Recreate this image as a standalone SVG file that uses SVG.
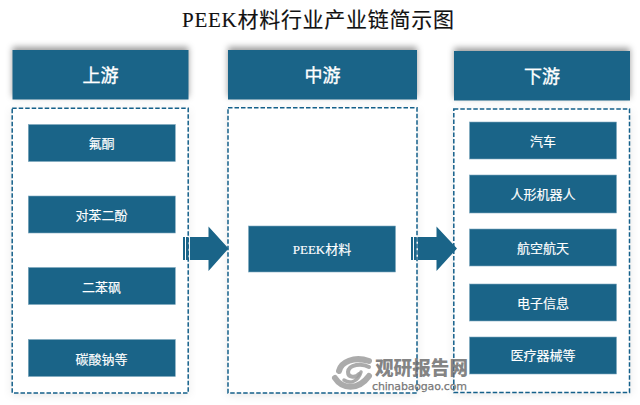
<svg xmlns="http://www.w3.org/2000/svg" width="640" height="405" viewBox="0 0 640 405">
<style>
.hd{fill:#1a6488}
.bx{fill:#1a6488;stroke:#7fa9bf;stroke-width:.6}
.pn{fill:#fff;stroke:#14608a;stroke-width:1.5;stroke-dasharray:4.500 2}
.ar{fill:#1a6488}
text{font-family:"Liberation Serif","Noto Sans CJK SC",serif;text-anchor:middle}
.t{fill:#111;font-size:21px;stroke:#111;stroke-width:.15}
.h{fill:#fff;font-size:18px;stroke:#fff;stroke-width:.35}
.l{fill:#fff;font-size:13px;stroke:#fff;stroke-width:.15}
.wm{fill:#6e6e6e;fill-opacity:.85;font-family:"Noto Sans CJK SC",sans-serif;font-weight:900;font-size:19px}
.wu{fill:#6e6e6e;fill-opacity:.9;font-family:"DejaVu Sans",sans-serif;font-size:11px;stroke:#6e6e6e;stroke-width:.25}
</style>
<defs>
<filter id="sh" x="-15%" y="-25%" width="130%" height="150%"><feGaussianBlur stdDeviation="3"/></filter>
<filter id="sp" x="-15%" y="-10%" width="130%" height="120%"><feGaussianBlur stdDeviation="4"/></filter>
</defs>
<rect width="640" height="405" fill="#fff"/>
<text class="t" x="318" y="27" textLength="272">PEEK材料行业产业链简示图</text>

<g id="shadows">
<rect x="12.5" y="47" width="176" height="50" fill="#000" fill-opacity=".4" filter="url(#sh)"/>
<rect x="228" y="47" width="189" height="50" fill="#000" fill-opacity=".4" filter="url(#sh)"/>
<rect x="454" y="48" width="176" height="50" fill="#000" fill-opacity=".4" filter="url(#sh)"/>
<rect x="12" y="110" width="176" height="285" fill="#000" fill-opacity=".1" filter="url(#sp)"/>
<rect x="228" y="110" width="189" height="285" fill="#000" fill-opacity=".1" filter="url(#sp)"/>
<rect x="454" y="111" width="176" height="283" fill="#000" fill-opacity=".1" filter="url(#sp)"/>
</g>

<g id="col-upstream">
<rect class="hd" x="12.5" y="50" width="176" height="49.5"/>
<text class="h" x="100.5" y="82">上游</text>
<rect class="pn" x="12.2" y="108.2" width="176" height="284.8"/>
</g>
<g id="col-midstream">
<rect class="hd" x="228" y="50" width="189" height="49.5"/>
<text class="h" x="322.5" y="82">中游</text>
<rect class="pn" x="228" y="107.8" width="189" height="285.2"/>
</g>
<g id="col-downstream">
<rect class="hd" x="454" y="51" width="176" height="49.5"/>
<text class="h" x="542" y="83">下游</text>
<rect class="pn" x="453.8" y="109" width="175.7" height="283.5"/>
</g>

<g id="n-fluoroketone"><rect class="bx" x="28.3" y="124.5" width="147" height="37"/><text class="l" x="101.5" y="148">氟酮</text></g>
<g id="n-hydroquinone"><rect class="bx" x="28.3" y="196" width="147" height="37"/><text class="l" x="101.5" y="220">对苯二酚</text></g>
<g id="n-sulfone"><rect class="bx" x="28.3" y="267.5" width="147" height="37"/><text class="l" x="101.5" y="292">二苯砜</text></g>
<g id="n-carbonate"><rect class="bx" x="28.3" y="339.500" width="147" height="37"/><text class="l" x="101.5" y="363.500">碳酸钠等</text></g>

<g id="n-peek"><rect class="bx" x="248.500" y="226" width="147" height="46"/><text class="l" x="322" y="254">PEEK材料</text></g>

<g id="n-auto"><rect class="bx" x="469.500" y="122" width="147" height="37"/><text class="l" x="543" y="146">汽车</text></g>
<g id="n-robot"><rect class="bx" x="469.500" y="175" width="147" height="38"/><text class="l" x="543" y="199">人形机器人</text></g>
<g id="n-aero"><rect class="bx" x="469.500" y="229" width="147" height="37"/><text class="l" x="543" y="253">航空航天</text></g>
<g id="n-elec"><rect class="bx" x="469.500" y="284" width="147" height="37"/><text class="l" x="543" y="308">电子信息</text></g>
<g id="n-med"><rect class="bx" x="469.500" y="337" width="147" height="37"/><text class="l" x="543" y="360">医疗器械等</text></g>

<g id="connectors">
<g id="arrow-1">
<rect class="ar" x="183" y="237" width="2" height="23"/>
<rect class="ar" x="186" y="237" width="2.500" height="23"/>
<path class="ar" d="M190 237H208.500V226.500L228.500 248.500L208.500 271V260H190Z"/>
</g>
<g id="arrow-2">
<rect class="ar" x="411" y="237" width="2" height="23"/>
<rect class="ar" x="414" y="237" width="2.500" height="23"/>
<path class="ar" d="M418 237H436.500V226.500L457 248.500L436.500 271V260H418Z"/>
</g>
</g>

<g id="watermark">
<g fill="none" stroke="#9c9c9c" stroke-opacity=".85" stroke-linecap="round">
<path d="M339 371C341 362 354 356 369 361" stroke-width="6"/>
<path d="M369 367C362 363 349 364 348 372C348 378 356 378 359 374" stroke-width="4"/>
<path d="M335 378C342 389 358 391 369 376" stroke-width="6"/>
<path d="M344 380C350 384 358 382 361 372" stroke-width="3.500"/>
</g>
<text class="wm" x="421.500" y="374.500" textLength="93" lengthAdjust="spacingAndGlyphs">观研报告网</text>
<text class="wu" x="419.500" y="389.500" textLength="95" lengthAdjust="spacing">chinabaogao.com</text>
</g>
</svg>
